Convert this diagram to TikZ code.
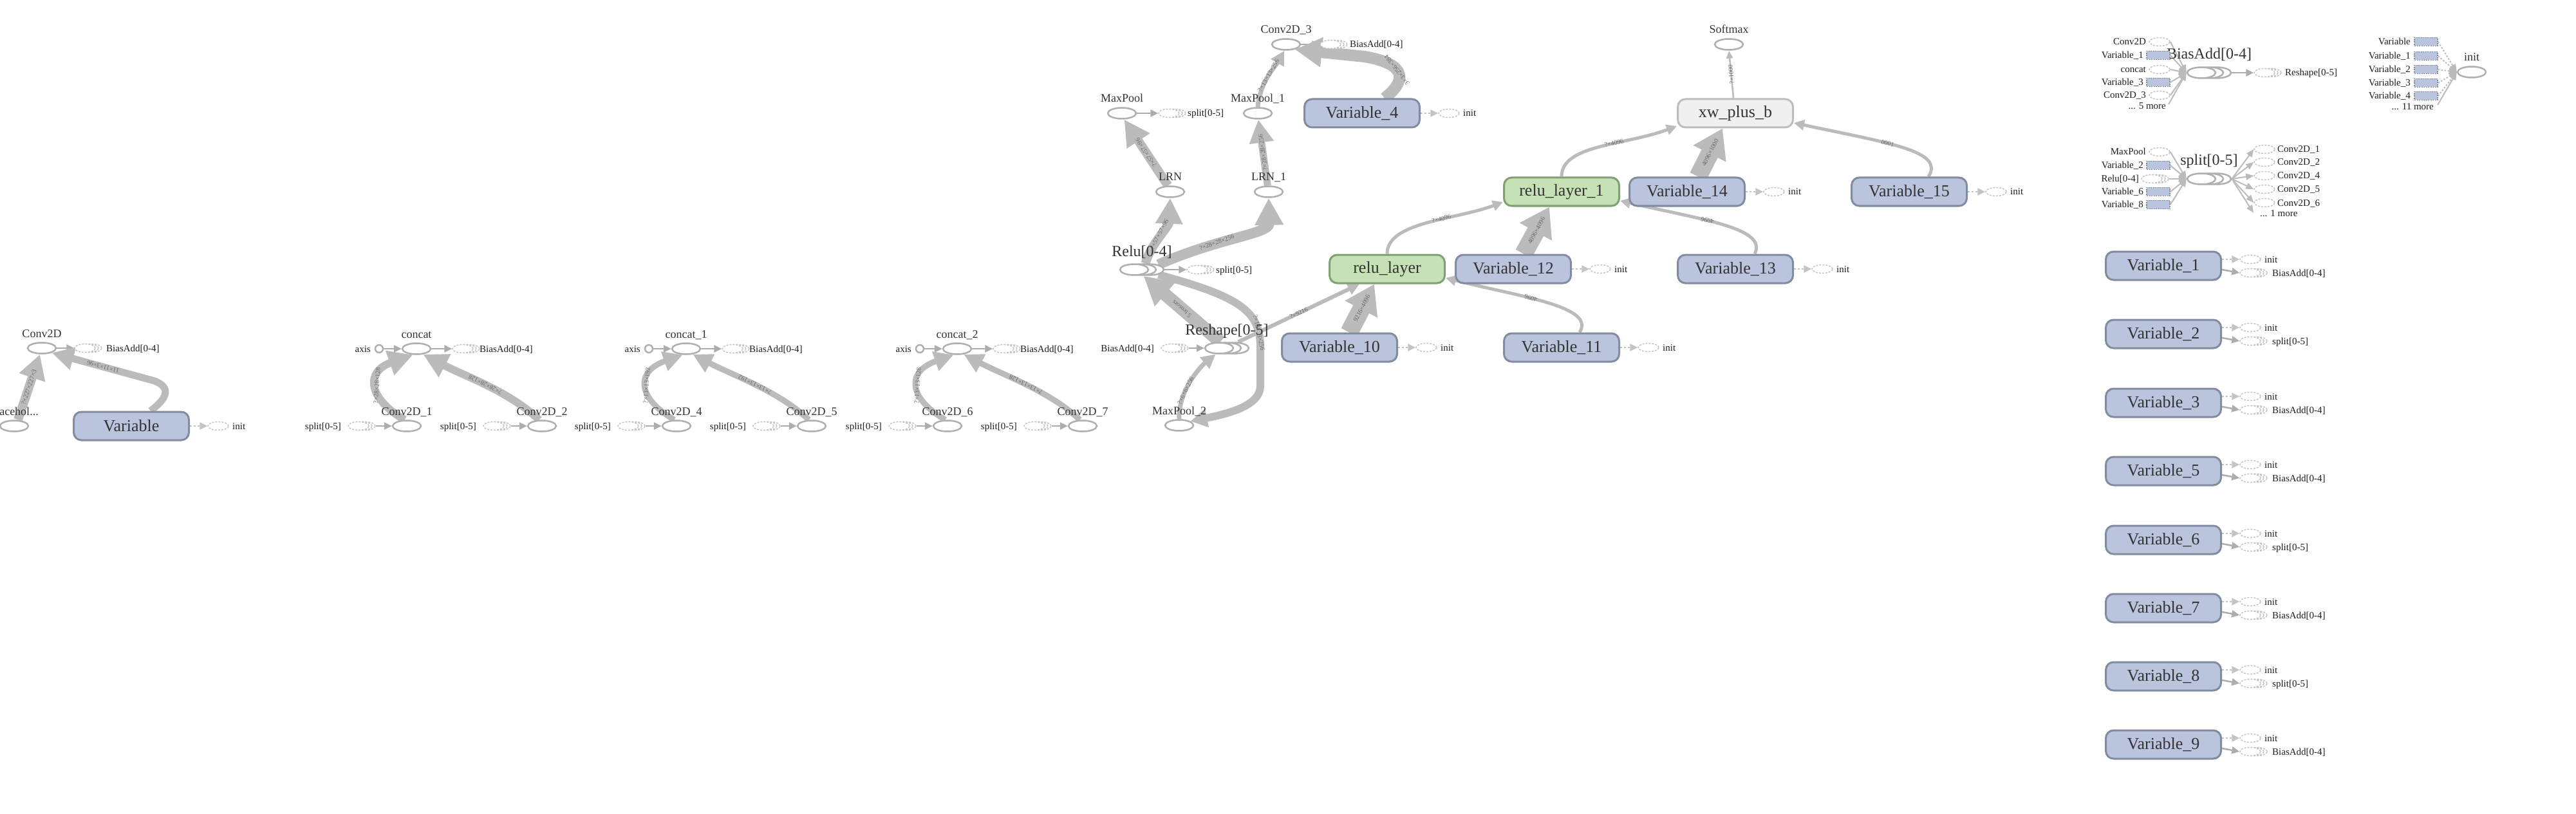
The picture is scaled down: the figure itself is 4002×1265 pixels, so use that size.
\documentclass[tikz,border=0pt]{standalone}
\usepackage{fontspec}
\setmainfont{Liberation Serif}
\usetikzlibrary{arrows.meta,shapes.geometric}
\pgfdeclarelayer{edges}
\pgfsetlayers{edges,main}
\definecolor{edgec}{HTML}{BBBBBB}
\definecolor{opc}{HTML}{AFAFAF}
\definecolor{refc}{HTML}{C4C4C4}
\definecolor{stubc}{HTML}{ADADAD}
\definecolor{varfill}{HTML}{BAC4DD}
\definecolor{vardraw}{HTML}{828CA0}
\definecolor{grnfill}{HTML}{C5E1B5}
\definecolor{grndraw}{HTML}{80A073}
\definecolor{gryfill}{HTML}{F0F0F0}
\definecolor{grydraw}{HTML}{BDBDBD}
\definecolor{txtc}{HTML}{333333}
\definecolor{reftc}{HTML}{1E1E1E}
\definecolor{elabc}{HTML}{666666}
\newcommand\fsz[1]{\fontsize{#1}{#1}\selectfont}
\tikzset{
  x=1pt, y=-1pt,
  opnode/.style={ellipse, draw=opc, line width=2.5pt, fill=white, minimum width=44pt, minimum height=17pt, inner sep=0pt},
  oplab/.style={font=\fsz{18}, text=txtc, inner sep=0pt, anchor=base},
  serlab/.style={font=\fsz{24}, text=txtc, inner sep=0pt, anchor=base},
  refnode/.style={ellipse, draw=refc, dash pattern=on 3pt off 2pt, line width=1.5pt, fill=white, minimum width=32pt, minimum height=13pt, inner sep=0pt},
  reftxt/.style={font=\fsz{15}, text=reftc, inner sep=0pt},
  inrect/.style={rectangle, fill=varfill, draw=vardraw, dash pattern=on 2pt off 1.5pt, line width=1.5pt, minimum width=36pt, minimum height=13pt, inner sep=0pt},
  gbox/.style={rectangle, rounded corners=12pt, line width=3pt, minimum width=179pt, minimum height=44pt, font=\fsz{26}, text=txtc, inner sep=0pt},
  varbox/.style={gbox, fill=varfill, draw=vardraw},
  grnbox/.style={gbox, fill=grnfill, draw=grndraw},
  grybox/.style={gbox, fill=gryfill, draw=grydraw},
  flow/.style n args={3}{draw=edgec, line width=#1pt, -{Triangle[length=#2pt, width=#3pt]}},
  stub/.style={draw=stubc, line width=2.5pt, -{Triangle[length=12pt, width=11pt]}},
  dotstub/.style={stub, draw=refc, dash pattern=on 3pt off 3pt},
  fan/.style={draw=edgec, line width=2pt, -{Triangle[length=12pt, width=10pt]}},
  dotfan/.style={fan, dash pattern=on 2.5pt off 2.5pt},
  elab/.style={font=\fsz{10}, text=elabc, inner sep=1pt, sloped, allow upside down}
}
\newcommand\opat[4]{%
  \node[opnode] (#1) at (#2,#3) {};
  \node[oplab] (#1-l) at (#2,#3-17) {#4};}
\newcommand\serat[4]{%
  \node[opnode] (#1-b2) at (#2+24,#3) {};
  \node[opnode] (#1-b1) at (#2+12,#3) {};
  \node[opnode] (#1) at (#2,#3) {};
  \node[serlab] (#1-l) at (#2+12,#3-21) {#4};}
\newcommand\refat[3]{\node[refnode] (#1) at (#2,#3) {};}
\newcommand\srefat[3]{%
  \node[refnode] (#1-b2) at (#2+10,#3) {};
  \node[refnode] (#1-b1) at (#2+5,#3) {};
  \node[refnode] (#1) at (#2,#3) {};}
\newcommand\rtxt[5]{\node[reftxt, anchor=base #2] (#1) at (#3,#4+5) {#5};}
\newcommand\boxinit[3]{%
  \refat{#1-i}{#2+135}{#3}
  \rtxt{#1-it}{west}{#2+157}{#3}{init}
  \begin{pgfonlayer}{edges}\draw[dotstub] (#1.east) -- (#1-i.west);\end{pgfonlayer}}
\newcommand\concatgrp[8]{%
  \opat{#1}{#2}{542}{#3}
  \node[circle, draw=opc, line width=2.5pt, fill=white, minimum size=12pt, inner sep=0pt] (#1ax) at (#2-58,542) {};
  \rtxt{#1axt}{east}{#2-71}{542}{axis}
  \srefat{#1ba}{#2+72}{542}
  \rtxt{#1bat}{west}{#2+98}{542}{BiasAdd[0-4]}
  \opat{#1a}{#2-15}{662}{#4}
  \opat{#1b}{#2+195}{662}{#5}
  \srefat{#1sa}{#2-90}{662}
  \rtxt{#1sat}{east}{#2-117}{662}{split[0-5]}
  \srefat{#1sb}{#2+120}{662}
  \rtxt{#1sbt}{east}{#2+93}{662}{split[0-5]}
  \begin{pgfonlayer}{edges}
  \draw[stub] (#1ax) -- (#1.west);
  \draw[stub] (#1.east) -- (#1ba.west);
  \draw[stub] (#1sa-b2.east) -- (#1a.west);
  \draw[stub] (#1sb-b2.east) -- (#1b.west);
  \draw[flow={#7}{#8}{#8}] (#1a.110) .. controls +(-58,-34) and +(-74,26) .. (#1.-120) node[elab, pos=.5] {#6};
  \draw[flow={#7}{#8}{#8}] (#1b.115) .. controls +(-46,-44) and +(63,33) .. (#1.-40) node[elab, pos=.5] {#6};
  \end{pgfonlayer}}
\newcommand\varitem[4]{%
  \node[varbox] (#1) at (3361,#3) {#2};
  \refat{#1-i}{3496}{#3-10}
  \rtxt{#1-it}{west}{3518}{#3-10}{init}
  \srefat{#1-o}{3496}{#3+11}
  \rtxt{#1-ot}{west}{3530}{#3+11}{#4}
  \begin{pgfonlayer}{edges}
  \draw[dotstub] ([yshift=10pt]#1.east) -- (#1-i.west);
  \draw[stub] ([yshift=-6pt]#1.east) -- (#1-o.west);
  \end{pgfonlayer}}
\begin{document}
\begin{tikzpicture}
\useasboundingbox (0,0) rectangle (4002,1265);
\begin{pgfonlayer}{edges}
\fill[white] (0,0) rectangle (4002,1265);
\end{pgfonlayer}
% ---------------- left cluster
\opat{ph}{22}{662}{Placehol...}
\opat{conv}{65}{541}{Conv2D}
\srefat{convba}{132}{541}
\rtxt{convbat}{west}{165}{541}{BiasAdd[0-4]}
\node[varbox] (var) at (204,662) {Variable};
\boxinit{var}{204}{662}
\begin{pgfonlayer}{edges}
\draw[stub] (conv.east) -- (convba.west);
\draw[flow={14}{38}{40}] ([xshift=6pt]ph.north) -- ([xshift=-3pt]conv.south) node[elab, midway] {?×227×227×3};
\draw[flow={11}{34}{34}] ([xshift=30pt]var.north) .. controls (258,620) and (268,603) .. (240,592) -- (conv.-25) node[elab, midway] {11×11×3×96};
\end{pgfonlayer}
% ---------------- concat clusters
\concatgrp{ca}{647}{concat}{Conv2D\_1}{Conv2D\_2}{?×28×28×128}{12}{38}
\concatgrp{cb}{1066}{concat\_1}{Conv2D\_4}{Conv2D\_5}{?×13×13×192}{9}{30}
\concatgrp{cc}{1487}{concat\_2}{Conv2D\_6}{Conv2D\_7}{?×13×13×128}{9}{30}
% ---------------- centre cluster
\opat{conv3}{1998}{69}{Conv2D\_3}
\srefat{conv3ba}{2067}{69}
\rtxt{conv3bat}{west}{2097}{69}{BiasAdd[0-4]}
\opat{mp}{1743}{176}{MaxPool}
\srefat{mpsp}{1816}{176}
\rtxt{mpspt}{west}{1845}{176}{split[0-5]}
\opat{mp1}{1954}{176}{MaxPool\_1}
\node[varbox] (var4) at (2116,176) {Variable\_4};
\boxinit{var4}{2116}{176}
\opat{lrn}{1818}{298}{LRN}
\opat{lrn1}{1971}{298}{LRN\_1}
\serat{relu}{1762}{419}{Relu[0-4]}
\srefat{relusp}{1860}{419}
\rtxt{reluspt}{west}{1889}{419}{split[0-5]}
\serat{resh}{1894}{541}{Reshape[0-5]}
\srefat{reshba}{1820}{541}
\rtxt{reshbat}{east}{1793}{541}{BiasAdd[0-4]}
\opat{mp2}{1832}{661}{MaxPool\_2}
\node[varbox] (var10) at (2081,540) {Variable\_10};
\boxinit{var10}{2081}{540}
\node[grnbox] (rl) at (2155,418) {relu\_layer};
\node[varbox] (var12) at (2351,418) {Variable\_12};
\boxinit{var12}{2351}{418}
\node[varbox] (var13) at (2696,418) {Variable\_13};
\boxinit{var13}{2696}{418}
\node[varbox] (var11) at (2426,540) {Variable\_11};
\boxinit{var11}{2426}{540}
\node[grnbox] (rl1) at (2426,298) {relu\_layer\_1};
\node[varbox] (var14) at (2621,298) {Variable\_14};
\boxinit{var14}{2621}{298}
\node[varbox] (var15) at (2966,298) {Variable\_15};
\boxinit{var15}{2966}{298}
\node[grybox] (xw) at (2696,176) {xw\_plus\_b};
\opat{sm}{2686}{69}{Softmax}
\begin{pgfonlayer}{edges}
\draw[stub] (conv3.east) -- (conv3ba.west);
\draw[stub] (mp.east) -- (mpsp.west);
\draw[stub] (relu-b2.east) -- (relusp.west);
\draw[stub] (reshba-b2.east) -- (resh.west);
\draw[flow={7}{22}{22}] (mp1.north) .. controls +(4,-40) and +(-15,26) .. (conv3.-105) node[elab, pos=.5] {?×13×13×256};
\draw[flow={18}{42}{44}] ([xshift=35pt]var4.north) .. controls +(32,-25) and +(70,12) .. (2120,88) node[elab, pos=.6] {3×3×256×384} -- (conv3.-30);
\draw[flow={14}{40}{40}] (lrn.110) -- (mp.-70) node[elab, midway] {?×57×57×96};
\draw[flow={14}{40}{40}] (relu-b1.60) .. controls +(8,-30) and +(-2,45) .. (lrn.south) node[elab, pos=.5] {?×57×57×96};
\draw[flow={16}{42}{42}] (relu-b2.30) .. controls +(95,-42) and +(1,56) .. (lrn1.south) node[elab, pos=.35] {?×28×28×256};
\draw[flow={11}{36}{36}] (lrn1.100) -- (mp1.-85) node[elab, midway] {?×28×28×256};
\draw[flow={20}{44}{46}] (resh.80) -- (relu-b1.-75) node[elab, midway] {5 tensors};
\draw[flow={12}{26}{28}] (relu-b2.-30) .. controls +(130,35) and +(0,-55) .. (1958,540) node[elab, pos=.85] {?×13×13×256} -- (1958,600) .. controls +(0,30) and +(60,-12) .. (mp2.20);
\draw[flow={7}{22}{22}] (mp2.north) .. controls +(-2,-45) and +(-22,18) .. (resh.-120) node[elab, pos=.35] {?×6×6×256};
\draw[flow={6}{18}{18}] (resh-b2.60) -- ([xshift=-43pt]rl.south) node[elab, midway] {?×9216};
\draw[flow={28}{44}{54}] ([xshift=15pt]var10.north) -- ([xshift=-20pt]rl.south) node[elab, midway] {9216×4096};
\draw[flow={5}{16}{16}] ([xshift=28pt]var11.north) .. controls +(25,-40) and +(120,30) .. ([yshift=-14pt]rl.east) node[elab, pos=.6] {4096};
\draw[flow={5}{16}{16}] (rl.north) .. controls +(0,-50) and +(-75,28) .. ([yshift=-16pt]rl1.west) node[elab, pos=.6] {?×4096};
\draw[flow={28}{44}{54}] ([xshift=16pt]var12.north) -- ([xshift=-19pt]rl1.south) node[elab, midway] {4096×4096};
\draw[flow={5}{16}{16}] ([xshift=30pt]var13.north) .. controls +(20,-40) and +(130,30) .. ([yshift=-14pt]rl1.east) node[elab, pos=.6] {4096};
\draw[flow={5}{16}{16}] (rl1.north) .. controls +(0,-50) and +(-80,30) .. ([yshift=-20pt]xw.west) node[elab, pos=.6] {?×4096};
\draw[flow={28}{44}{54}] ([xshift=17pt]var14.north) -- ([xshift=-20pt]xw.south) node[elab, midway] {4096×1000};
\draw[flow={5}{16}{16}] ([xshift=30pt]var15.north) .. controls +(25,-40) and +(150,32) .. ([yshift=-15pt]xw.east) node[elab, pos=.6] {1000};
\draw[flow={2.5}{12}{10}] ([xshift=-3pt]xw.north) -- (sm.south) node[elab, midway] {?×1000};
\end{pgfonlayer}
% ---------------- BiasAdd group (top right)
\serat{ba}{3420}{113}{BiasAdd[0-4]}
\refat{bai1}{3355}{65}
\rtxt{bai1t}{east}{3334}{65}{Conv2D}
\node[inrect] (bai2) at (3353,86) {};
\rtxt{bai2t}{east}{3330}{86}{Variable\_1}
\refat{bai3}{3355}{108}
\rtxt{bai3t}{east}{3334}{108}{concat}
\node[inrect] (bai4) at (3353,128) {};
\rtxt{bai4t}{east}{3330}{128}{Variable\_3}
\refat{bai5}{3355}{148}
\rtxt{bai5t}{east}{3334}{148}{Conv2D\_3}
\rtxt{baimore}{east}{3365}{165}{... 5 more}
\srefat{baout}{3518}{113}
\rtxt{baoutt}{west}{3550}{113}{Reshape[0-5]}
\begin{pgfonlayer}{edges}
\draw[fan] (bai1.east) -- (ba.west);
\draw[fan] (bai2.east) -- (ba.west);
\draw[fan] (bai3.east) -- (ba.west);
\draw[fan] (bai4.east) -- (ba.west);
\draw[fan] (bai5.east) -- (ba.west);
\draw[fan] ([xshift=4pt,yshift=-2pt]baimore.north east) -- (ba.west);
\draw[stub] (ba-b2.east) -- (baout.west);
\end{pgfonlayer}
% ---------------- init group
\opat{init}{3840}{112}{init}
\node[inrect] (ini1) at (3769,65) {};
\rtxt{ini1t}{east}{3745}{65}{Variable}
\node[inrect] (ini2) at (3769,87) {};
\rtxt{ini2t}{east}{3745}{87}{Variable\_1}
\node[inrect] (ini3) at (3769,108) {};
\rtxt{ini3t}{east}{3745}{108}{Variable\_2}
\node[inrect] (ini4) at (3769,129) {};
\rtxt{ini4t}{east}{3745}{129}{Variable\_3}
\node[inrect] (ini5) at (3769,149) {};
\rtxt{ini5t}{east}{3745}{149}{Variable\_4}
\rtxt{inimore}{east}{3781}{166}{... 11 more}
\begin{pgfonlayer}{edges}
\draw[dotfan] (ini1.east) -- (init.west);
\draw[dotfan] (ini2.east) -- (init.west);
\draw[dotfan] (ini3.east) -- (init.west);
\draw[dotfan] (ini4.east) -- (init.west);
\draw[dotfan] (ini5.east) -- (init.west);
\draw[fan] ([xshift=6pt,yshift=-2pt]inimore.north east) -- (init.west);
\end{pgfonlayer}
% ---------------- split group
\serat{sp}{3420}{278}{split[0-5]}
\refat{spi1}{3355}{236}
\rtxt{spi1t}{east}{3334}{236}{MaxPool}
\node[inrect] (spi2) at (3353,257) {};
\rtxt{spi2t}{east}{3330}{257}{Variable\_2}
\srefat{spi3}{3343}{278}
\rtxt{spi3t}{east}{3323}{278}{Relu[0-4]}
\node[inrect] (spi4) at (3353,298) {};
\rtxt{spi4t}{east}{3330}{298}{Variable\_6}
\node[inrect] (spi5) at (3353,318) {};
\rtxt{spi5t}{east}{3330}{318}{Variable\_8}
\refat{spo1}{3518}{232}
\rtxt{spo1t}{west}{3538}{232}{Conv2D\_1}
\refat{spo2}{3518}{252}
\rtxt{spo2t}{west}{3538}{252}{Conv2D\_2}
\refat{spo3}{3518}{273}
\rtxt{spo3t}{west}{3538}{273}{Conv2D\_4}
\refat{spo4}{3518}{294}
\rtxt{spo4t}{west}{3538}{294}{Conv2D\_5}
\refat{spo5}{3518}{315}
\rtxt{spo5t}{west}{3538}{315}{Conv2D\_6}
\rtxt{spmore}{west}{3511}{331}{... 1 more}
\begin{pgfonlayer}{edges}
\draw[fan] (spi1.east) -- (sp.west);
\draw[fan] (spi2.east) -- (sp.west);
\draw[fan] (spi3-b2.east) -- (sp.west);
\draw[fan] (spi4.east) -- (sp.west);
\draw[fan] (spi5.east) -- (sp.west);
\draw[fan] (sp-b2.east) -- (spo1.west);
\draw[fan] (sp-b2.east) -- (spo2.west);
\draw[fan] (sp-b2.east) -- (spo3.west);
\draw[fan] (sp-b2.east) -- (spo4.west);
\draw[fan] (sp-b2.east) -- (spo5.west);
\draw[fan] (sp-b2.east) -- ([xshift=-10pt,yshift=-5pt]spmore.north west);
\end{pgfonlayer}
% ---------------- variable list
\varitem{v1}{Variable\_1}{413}{BiasAdd[0-4]}
\varitem{v2}{Variable\_2}{519}{split[0-5]}
\varitem{v3}{Variable\_3}{626}{BiasAdd[0-4]}
\varitem{v5}{Variable\_5}{732}{BiasAdd[0-4]}
\varitem{v6}{Variable\_6}{839}{split[0-5]}
\varitem{v7}{Variable\_7}{945}{BiasAdd[0-4]}
\varitem{v8}{Variable\_8}{1051}{split[0-5]}
\varitem{v9}{Variable\_9}{1157}{BiasAdd[0-4]}
\end{tikzpicture}
\end{document}
